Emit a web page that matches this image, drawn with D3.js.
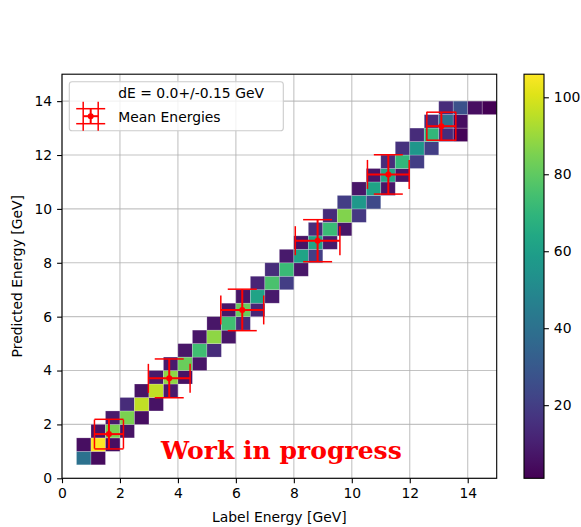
<!DOCTYPE html>
<html><head><meta charset="utf-8">
<script src="https://cdn.jsdelivr.net/npm/d3@7"></script>
<style>body{margin:0;background:#fff} svg{display:block}</style>
</head><body><svg id="c" width="581" height="527"></svg>
<script>
// 2D histogram bins (lower edges, bin width 0.5 GeV) and counts
const binX = [0.5,1.0, 0.5,1.0,1.5, 1.0,1.5,2.0, 1.5,2.0,2.5, 2.0,2.5,3.0, 2.5,3.0,3.5, 3.0,3.5,4.0,
  3.5,4.0,4.5, 4.0,4.5,5.0, 4.5,5.0,5.5, 5.0,5.5,6.0, 5.5,6.0,6.5, 6.0,6.5,7.0, 6.5,7.0,7.5,
  7.0,7.5,8.0, 7.5,8.0,8.5, 8.0,8.5,9.0, 8.5,9.0,9.5, 9.0,9.5,10.0, 9.5,10.0,10.5, 10.0,10.5,11.0,
  10.5,11.0,11.5, 11.0,11.5,12.0, 11.5,12.0,12.5, 12.0,12.5,13.0,13.5, 12.5,13.0,13.5, 13.0,13.5,14.0,14.5];
const binY = [0.5,0.5, 1.0,1.0,1.0, 1.5,1.5,1.5, 2.0,2.0,2.0, 2.5,2.5,2.5, 3.0,3.0,3.0, 3.5,3.5,3.5,
  4.0,4.0,4.0, 4.5,4.5,4.5, 5.0,5.0,5.0, 5.5,5.5,5.5, 6.0,6.0,6.0, 6.5,6.5,6.5, 7.0,7.0,7.0,
  7.5,7.5,7.5, 8.0,8.0,8.0, 8.5,8.5,8.5, 9.0,9.0,9.0, 9.5,9.5,9.5, 10.0,10.0,10.0, 10.5,10.5,10.5,
  11.0,11.0,11.0, 11.5,11.5,11.5, 12.0,12.0,12.0, 12.5,12.5,12.5,12.5, 13.0,13.0,13.0, 13.5,13.5,13.5,13.5];
const binCount = [40,4, 5,106,5, 6,85,6, 8,85,5, 14,96,6, 6,96,8, 8,88,6,
  8,82,7, 7,74,14, 7,88,7, 7,74,14, 7,82,12, 7,62,8, 12,76,20,
  14,72,7, 8,62,20, 6,62,8, 14,72,7, 14,86,18, 20,57,24, 7,62,7,
  7,64,7, 14,70,20, 16,56,20, 14,70,14,2, 14,40,5, 14,27,5,1];
const binWidth = 0.5;

// Mean energies with errors
const meanX = [1.62, 3.70, 6.22, 8.82, 11.26, 13.09];
const meanY = [1.64, 3.71, 6.25, 8.82, 11.28, 13.07];
const errX  = [0.50, 0.72, 0.74, 0.77, 0.72, 0.50];
const errY  = [0.55, 0.72, 0.77, 0.78, 0.73, 0.52];

const xTicks = [0,2,4,6,8,10,12,14];
const yTicks = [0,2,4,6,8,10,12,14];
const cbTicks = [20,40,60,80,100];
const countMin = 1, countMax = 106;

const svg = d3.select("#c");
const L = 62, R = 496.7, T = 74.2, B = 478.3;
const x = d3.scaleLinear().domain([0,15]).range([L,R]);
const y = d3.scaleLinear().domain([0,15]).range([B,T]);
const color = d3.scaleSequential(d3.interpolateViridis).domain([countMin,countMax]);
const FS = 13.9;
const font = "DejaVu Sans, sans-serif";

// grid
const grid = svg.append("g");
xTicks.forEach(t => grid.append("line").attr("x1",x(t)).attr("x2",x(t)).attr("y1",T).attr("y2",B)
  .attr("stroke","#b0b0b0").attr("stroke-width",1.1).attr("opacity",0.75));
yTicks.forEach(t => grid.append("line").attr("y1",y(t)).attr("y2",y(t)).attr("x1",L).attr("x2",R)
  .attr("stroke","#b0b0b0").attr("stroke-width",1.1).attr("opacity",0.75));

// cells
const cells = binX.map((bx,i)=>({x:bx,y:binY[i],c:binCount[i]}));
svg.append("g").selectAll("rect").data(cells).join("rect")
  .attr("x",d=>x(d.x)).attr("y",d=>y(d.y+binWidth))
  .attr("width",d=>x(d.x+binWidth)-x(d.x)).attr("height",d=>y(d.y)-y(d.y+binWidth))
  .attr("fill",d=>color(d.c)).attr("stroke","rgba(255,255,255,0.3)").attr("stroke-width",0.7);

// error bars
const eb = svg.append("g").attr("stroke","red").attr("fill","red");
const cap = 14.5;
meanX.forEach((mx,i)=>{
  const px = x(mx), py = y(meanY[i]);
  const x0 = x(mx-errX[i]), x1 = x(mx+errX[i]);
  const y0 = y(meanY[i]-errY[i]), y1 = y(meanY[i]+errY[i]);
  eb.append("line").attr("x1",x0).attr("x2",x1).attr("y1",py).attr("y2",py).attr("stroke-width",2);
  eb.append("line").attr("x1",px).attr("x2",px).attr("y1",y0).attr("y2",y1).attr("stroke-width",2);
  [x0,x1].forEach(cx=>eb.append("line").attr("x1",cx).attr("x2",cx).attr("y1",py-cap).attr("y2",py+cap).attr("stroke-width",1.5));
  [y0,y1].forEach(cy=>eb.append("line").attr("y1",cy).attr("y2",cy).attr("x1",px-cap).attr("x2",px+cap).attr("stroke-width",1.5));
  eb.append("circle").attr("cx",px).attr("cy",py).attr("r",3).attr("stroke","none");
});

// Work in progress
const wip = svg.append("text").attr("x",161).attr("y",458.5)
  .attr("font-family","DejaVu Serif, serif").attr("font-weight","bold").attr("fill","red")
  .attr("font-size",24).text("Work in progress");
const w = wip.node().getComputedTextLength();
wip.attr("font-size", 24*241/w);

// spines
svg.append("rect").attr("x",L).attr("y",T).attr("width",R-L).attr("height",B-T)
  .attr("fill","none").attr("stroke","#000").attr("stroke-width",1.1);

// axes
const xAxis = d3.axisBottom(x).tickValues(xTicks).tickSize(4.9).tickPadding(4.9).tickFormat(d3.format("d"));
const gx = svg.append("g").attr("transform",`translate(0,${B})`).call(xAxis);
const yAxis = d3.axisLeft(y).tickValues(yTicks).tickSize(4.9).tickPadding(4.9).tickFormat(d3.format("d"));
const gy = svg.append("g").attr("transform",`translate(${L},0)`).call(yAxis);
[gx,gy].forEach(g=>{
  g.select(".domain").remove();
  g.selectAll("line").attr("stroke","#000").attr("stroke-width",1.1);
  g.selectAll("text").attr("font-family",font).attr("font-size",FS).attr("fill","#000");
});
gx.selectAll("text").attr("dy","0.71em");

svg.append("text").attr("x",(L+R)/2).attr("y",522).attr("text-anchor","middle")
  .attr("font-family",font).attr("font-size",FS).text("Label Energy [GeV]");
svg.append("text").attr("transform",`translate(22,${(T+B)/2}) rotate(-90)`).attr("text-anchor","middle")
  .attr("font-family",font).attr("font-size",FS).text("Predicted Energy [GeV]");

// legend
const lg = svg.append("g");
lg.append("rect").attr("x",69.3).attr("y",81.7).attr("width",214).attr("height",49).attr("rx",2.8)
  .attr("fill","rgba(255,255,255,0.8)").attr("stroke","#cccccc").attr("stroke-width",1.1);
lg.append("text").attr("x",118.3).attr("y",98.3).attr("font-family",font).attr("font-size",FS).text("dE = 0.0+/-0.15 GeV");
lg.append("text").attr("x",118.3).attr("y",121.6).attr("font-family",font).attr("font-size",FS).text("Mean Energies");
const hx = 90.7, hy = 116.2, hb = 7.5, hc = 14.5;
const lh = lg.append("g").attr("stroke","red").attr("fill","red");
lh.append("line").attr("x1",hx-hb).attr("x2",hx+hb).attr("y1",hy).attr("y2",hy).attr("stroke-width",2);
lh.append("line").attr("x1",hx).attr("x2",hx).attr("y1",hy-hb).attr("y2",hy+hb).attr("stroke-width",2);
[hx-hb,hx+hb].forEach(cx=>lh.append("line").attr("x1",cx).attr("x2",cx).attr("y1",hy-hc).attr("y2",hy+hc).attr("stroke-width",1.5));
[hy-hb,hy+hb].forEach(cy=>lh.append("line").attr("y1",cy).attr("y2",cy).attr("x1",hx-hc).attr("x2",hx+hc).attr("stroke-width",1.5));
lh.append("circle").attr("cx",hx).attr("cy",hy).attr("r",3).attr("stroke","none");

// colorbar
const CL = 524, CR = 544;
const cy = d3.scaleLinear().domain([countMin,countMax]).range([B,T]);
const defs = svg.append("defs");
const grad = defs.append("linearGradient").attr("id","vir").attr("x1",0).attr("y1",1).attr("x2",0).attr("y2",0);
d3.range(0,1.0001,0.05).forEach(t=>grad.append("stop").attr("offset",t).attr("stop-color",d3.interpolateViridis(t)));
svg.append("rect").attr("x",CL).attr("y",T).attr("width",CR-CL).attr("height",B-T).attr("fill","url(#vir)")
  .attr("stroke","#000").attr("stroke-width",1.1);
const cax = d3.axisRight(cy).tickValues(cbTicks).tickSize(4.9).tickPadding(4.9);
const gc = svg.append("g").attr("transform",`translate(${CR},0)`).call(cax);
gc.select(".domain").remove();
gc.selectAll("line").attr("stroke","#000").attr("stroke-width",1.1);
gc.selectAll("text").attr("font-family",font).attr("font-size",FS).attr("fill","#000");
</script></body></html>
